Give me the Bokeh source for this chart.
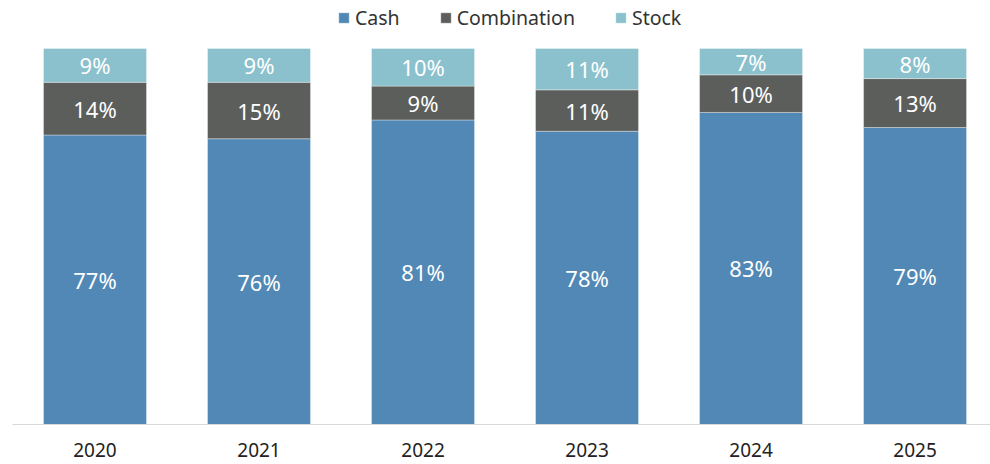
from bokeh.plotting import figure
from bokeh.models import ColumnDataSource, Range1d, Legend, LegendItem
from bokeh.core.properties import value
from bokeh.embed import file_html
from bokeh.resources import INLINE

years = ["2020", "2021", "2022", "2023", "2024", "2025"]
cash = [77, 76, 81, 78, 83, 79]
combination = [14, 15, 9, 11, 10, 13]
stock = [9, 9, 10, 11, 7, 8]

series_names = ["Cash", "Combination", "Stock"]
colors = ["#5288b5", "#5c5e5b", "#8bc1cd"]
FONT = "Noto Sans"

x = list(range(len(years)))
s_cash_top = [c / 100 for c in cash]
s_comb_top = [(c + m) / 100 for c, m in zip(cash, combination)]
s_stock_top = [(c + m + s) / 100 for c, m, s in zip(cash, combination, stock)]

src = ColumnDataSource(dict(
    x=x,
    b0=[0] * len(x), t0=s_cash_top,
    b1=s_cash_top, t1=s_comb_top,
    b2=s_comb_top, t2=s_stock_top,
    l0=[f"{v}%" for v in cash], l1=[f"{v}%" for v in combination], l2=[f"{v}%" for v in stock],
    y0=[(a + b) / 2 for a, b in zip([0] * len(x), s_cash_top)],
    y1=[(a + b) / 2 for a, b in zip(s_cash_top, s_comb_top)],
    y2=[(a + b) / 2 for a, b in zip(s_comb_top, s_stock_top)],
))

p = figure(width=990, height=464, output_backend="svg", toolbar_location=None,
           x_range=Range1d(-0.503, 5.46), y_range=Range1d(0, 1.1277),
           min_border_left=12, min_border_right=0, min_border_top=0, min_border_bottom=40)
p.outline_line_color = None
p.xgrid.visible = False
p.ygrid.visible = False
p.yaxis.visible = False

renderers = []
for i in range(3):
    r = p.vbar(x="x", width=0.628, bottom=f"b{i}", top=f"t{i}", source=src,
               fill_color=colors[i], line_color="#ffffff", line_alpha=0.35, line_width=1)
    renderers.append(r)
    p.text(x="x", y=f"y{i}", text=f"l{i}", source=src, text_align="center", text_baseline="middle",
           text_color="#ffffff", text_font=value(FONT), text_font_size="22px")

xa = p.xaxis[0]
xa.ticker = x
xa.major_label_overrides = {i: y for i, y in zip(x, years)}
xa.major_tick_line_color = None
xa.minor_tick_line_color = None
xa.axis_line_color = "#d9d9d9"
xa.axis_line_width = 1
xa.major_label_standoff = 12
xa.major_label_text_font = FONT
xa.major_label_text_font_size = "19px"
xa.major_label_text_color = "#222222"

legend = Legend(items=[LegendItem(label=n, renderers=[r]) for n, r in zip(series_names, renderers)],
                location=(325, 393), orientation="horizontal")
legend.border_line_color = None
legend.background_fill_alpha = 0
legend.label_text_font = FONT
legend.label_text_font_size = "19.5px"
legend.label_text_color = "#333333"
legend.glyph_width = 13
legend.glyph_height = 13
legend.spacing = 39
legend.label_standoff = 5
legend.margin = 0
legend.padding = 0
p.add_layout(legend)

open("out.html", "w").write(file_html(p, INLINE))
